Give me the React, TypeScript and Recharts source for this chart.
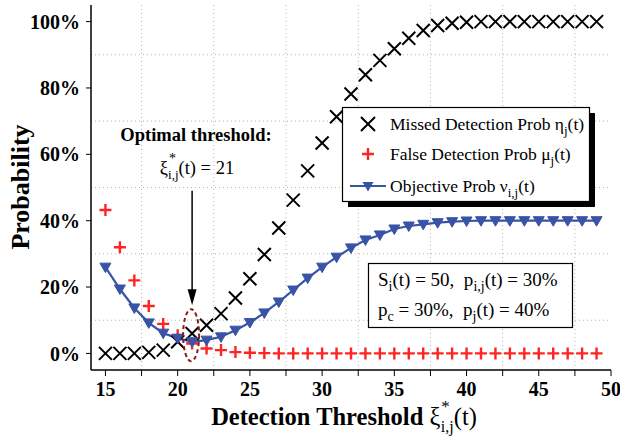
import React from 'react'
import {
  ComposedChart,
  Line,
  XAxis,
  YAxis,
  ReferenceLine,
  ReferenceDot,
} from 'recharts'

const thresholds = [
  15, 16, 17, 18, 19, 20, 21, 22, 23, 24, 25, 26, 27, 28, 29, 30, 31, 32,
  33, 34, 35, 36, 37, 38, 39, 40, 41, 42, 43, 44, 45, 46, 47, 48, 49,
]

// missed detection prob (black x)
const missedProb = [
  0, 0, 0, 0.3, 1, 3.5, 6, 8.5, 12, 16.7, 22.5, 29.8, 37.8, 46.2, 55, 63.4,
  71.3, 78.2, 84, 88.3, 91.8, 95, 97.3, 98.8, 99.5, 99.8, 100, 100, 100, 100,
  100, 100, 100, 100, 100,
]

// false detection prob (red +)
const falseProb = [
  43.2, 32, 22, 14.3, 8.9, 5.5, 3, 1.5, 1, 0.4, 0.2, 0.1, 0, 0, 0, 0, 0, 0, 0,
  0, 0, 0, 0, 0, 0, 0, 0, 0, 0, 0, 0, 0, 0, 0, 0,
]

// objective prob (blue line)
const objectiveProb = [
  26, 19.4, 13.7, 9.2, 6.1, 4.6, 3.5, 4, 5, 7, 9.3, 12.2, 15.5, 19.1, 22.7,
  26, 29, 31.8, 34.2, 35.7, 37.5, 38.4, 38.9, 39.4, 39.7, 39.9, 40, 40, 40,
  40, 40, 40, 40, 40, 40,
]

const xTicks = [15, 17.5, 20, 22.5, 25, 27.5, 30, 32.5, 35, 37.5, 40, 42.5, 45, 47.5, 50]
const yTicks = [0, 20, 40, 60, 80, 100]
const yTicksRight = [0, 10, 20, 30, 40, 50, 60, 70, 80, 90, 100]
const xGrid = [17.5, 22.5, 27.5, 32.5, 37.5, 42.5, 47.5]
const yGrid = [10, 30, 50, 70, 90]

const OPT_T = 21

const FONT = "'Liberation Serif', 'Times New Roman', serif"
const BLUE = '#3953a5'
const RED = '#ff2424'
const NB = '\u00a0'

const rows = thresholds.map((t, i) => ({
  t,
  eta: missedProb[i],
  mu: falseProb[i],
  nu: objectiveProb[i],
}))

const crossDot = (p: any) => {
  const { cx, cy, index } = p
  const s = 6.5
  return (
    <path
      key={`eta-${index}`}
      d={`M${cx - s},${cy - s}L${cx + s},${cy + s}M${cx - s},${cy + s}L${cx + s},${cy - s}`}
      stroke="#000"
      strokeWidth={2}
      fill="none"
    />
  )
}

const plusDot = (p: any) => {
  const { cx, cy, index } = p
  const s = 6
  return (
    <path
      key={`mu-${index}`}
      d={`M${cx - s},${cy}L${cx + s},${cy}M${cx},${cy - s}L${cx},${cy + s}`}
      stroke={RED}
      strokeWidth={2.4}
      fill="none"
    />
  )
}

const triDot = (p: any) => {
  const { cx, cy, index } = p
  return (
    <path
      key={`nu-${index}`}
      d={`M${cx - 5.5},${cy - 4}L${cx + 5.5},${cy - 4}L${cx},${cy + 5.5}Z`}
      fill={BLUE}
      stroke={BLUE}
      strokeWidth={1}
    />
  )
}

const tickStyle = { fontFamily: FONT, fontWeight: 700, fontSize: 20, fill: '#000' }

export default function App() {
  return (
    <div style={{ position: 'absolute', left: 0, top: 0, width: 620, height: 439, background: '#fff' }}>
      <ComposedChart
        width={620}
        height={439}
        data={rows}
        margin={{ top: 5, right: 9, bottom: 39, left: 41 }}
      >
        <XAxis
          xAxisId="b"
          dataKey="t"
          type="number"
          domain={[14, 50]}
          ticks={xTicks}
          interval={0}
          tickFormatter={(v) => (v % 5 === 0 ? String(v) : '')}
          tick={tickStyle}
          tickSize={6}
          tickMargin={6}
          height={30}
          stroke="#000"
          axisLine={{ stroke: '#000', strokeWidth: 1.5 }}
        />
        <XAxis
          xAxisId="t"
          orientation="top"
          dataKey="t"
          type="number"
          domain={[14, 50]}
          ticks={xTicks}
          interval={0}
          mirror
          tickFormatter={() => ''}
          tickSize={5}
          height={0}
          stroke="#000"
          axisLine={{ stroke: '#000', strokeWidth: 1.5 }}
        />
        <YAxis
          yAxisId="l"
          type="number"
          domain={[-5, 105]}
          ticks={yTicks}
          interval={0}
          tickFormatter={(v) => `${v}%`}
          tick={tickStyle}
          tickSize={5}
          tickMargin={6}
          width={50}
          stroke="#000"
          axisLine={{ stroke: '#000', strokeWidth: 1.5 }}
        />
        <YAxis
          yAxisId="r"
          orientation="right"
          type="number"
          domain={[-5, 105]}
          ticks={yTicksRight}
          interval={0}
          mirror
          tickFormatter={() => ''}
          tickSize={5}
          width={0}
          stroke="#000"
          axisLine={{ stroke: '#000', strokeWidth: 1.5 }}
        />

        {xGrid.map((x) => (
          <ReferenceLine key={`gx-${x}`} xAxisId="b" yAxisId="l" x={x} stroke="#b4b4b4" strokeDasharray="1 3" />
        ))}
        {yGrid.map((y) => (
          <ReferenceLine key={`gy-${y}`} xAxisId="b" yAxisId="l" y={y} stroke="#b4b4b4" strokeDasharray="1 3" />
        ))}

        <Line
          xAxisId="b"
          yAxisId="l"
          dataKey="eta"
          stroke="none"
          dot={crossDot}
          activeDot={false}
          isAnimationActive={false}
        />
        <Line
          xAxisId="b"
          yAxisId="l"
          dataKey="mu"
          stroke="none"
          dot={plusDot}
          activeDot={false}
          isAnimationActive={false}
        />
        <Line
          xAxisId="b"
          yAxisId="l"
          dataKey="nu"
          type="linear"
          stroke={BLUE}
          strokeWidth={2.2}
          dot={triDot}
          activeDot={false}
          isAnimationActive={false}
        />

        <ReferenceDot
          xAxisId="b"
          yAxisId="l"
          x={OPT_T}
          y={5.5}
          shape={(p: any) => (
            <ellipse
              cx={p.cx - 1}
              cy={p.cy}
              rx={8}
              ry={26}
              fill="none"
              stroke="#8b1a1a"
              strokeWidth={2}
              strokeDasharray="4 3"
            />
          )}
        />
        <ReferenceLine
          xAxisId="b"
          yAxisId="l"
          segment={[
            { x: OPT_T, y: 49 },
            { x: OPT_T, y: 14.5 },
          ]}
          shape={(p: any) => (
            <g>
              <line x1={p.x1} y1={p.y1} x2={p.x2} y2={p.y2 - 12} stroke="#000" strokeWidth={1.5} />
              <path d={`M${p.x2 - 4.5},${p.y2 - 16}L${p.x2 + 4.5},${p.y2 - 16}L${p.x2},${p.y2}Z`} fill="#000" />
            </g>
          )}
        />
      </ComposedChart>

      <svg
        width={620}
        height={439}
        style={{ position: 'absolute', left: 0, top: 0, pointerEvents: 'none' }}
        fontFamily={FONT}
      >
        {/* axis titles */}
        <text
          x={0}
          y={0}
          transform="translate(29,187) rotate(-90)"
          textAnchor="middle"
          fontSize={26}
          fontWeight={700}
        >
          Probability
        </text>
        <text x={344} y={425} textAnchor="middle" fontSize={24.5}>
          <tspan fontWeight={700}>Detection Threshold </tspan>
          <tspan>ξ</tspan>
          <tspan dx={1} dy={-13} fontSize={17}>*</tspan>
          <tspan dx={-9} dy={20} fontSize={16}>i,j</tspan>
          <tspan dy={-7}>(t)</tspan>
        </text>

        {/* annotation */}
        <text x={196} y={141} textAnchor="middle" fontSize={18.5} fontWeight={700}>
          Optimal threshold:
        </text>
        <text x={197} y={174} textAnchor="middle" fontSize={18.5}>
          <tspan>ξ</tspan>
          <tspan dx={1} dy={-11} fontSize={14}>*</tspan>
          <tspan dx={-8} dy={16} fontSize={13}>i,j</tspan>
          <tspan dy={-5}>(t) = 21</tspan>
        </text>

        {/* legend */}
        <rect x={348} y={113} width={247} height={94} fill="#000" />
        <rect x={342.5} y={107.5} width={247} height={94} fill="#fff" stroke="#000" strokeWidth={1.2} />
        <path d="M361,117L375,131M361,131L375,117" stroke="#000" strokeWidth={2} />
        <path d="M362,154L374,154M368,148L368,160" stroke={RED} strokeWidth={2.4} />
        <line x1={350} y1={186} x2={386} y2={186} stroke={BLUE} strokeWidth={2.2} />
        <path d="M362.5,182L373.5,182L368,191.5Z" fill={BLUE} />
        <g fontSize={17.5}>
          <text x={390} y={130}>
            Missed Detection Prob η<tspan dy={5} fontSize={13}>j</tspan>
            <tspan dy={-5}>(t)</tspan>
          </text>
          <text x={390} y={160}>
            False Detection Prob μ<tspan dy={5} fontSize={13}>j</tspan>
            <tspan dy={-5}>(t)</tspan>
          </text>
          <text x={390} y={192}>
            Objective Prob ν<tspan dy={5} fontSize={13}>i,j</tspan>
            <tspan dy={-5}>(t)</tspan>
          </text>
        </g>

        {/* parameter box */}
        <rect x={368.5} y={263.5} width={204} height={64} fill="#fff" stroke="#000" strokeWidth={1.2} />
        <g fontSize={19}>
          <text x={378} y={286}>
            S<tspan dy={5} fontSize={14}>i</tspan>
            <tspan dy={-5}>{`(t) = 50,${NB}${NB}p`}</tspan>
            <tspan dy={5} fontSize={14}>i,j</tspan>
            <tspan dy={-5}>(t) = 30%</tspan>
          </text>
          <text x={378} y={316}>
            p<tspan dy={5} fontSize={14}>c</tspan>
            <tspan dy={-5}>{` = 30%,${NB}${NB}p`}</tspan>
            <tspan dy={5} fontSize={14}>j</tspan>
            <tspan dy={-5}>(t) = 40%</tspan>
          </text>
        </g>
      </svg>
    </div>
  )
}
